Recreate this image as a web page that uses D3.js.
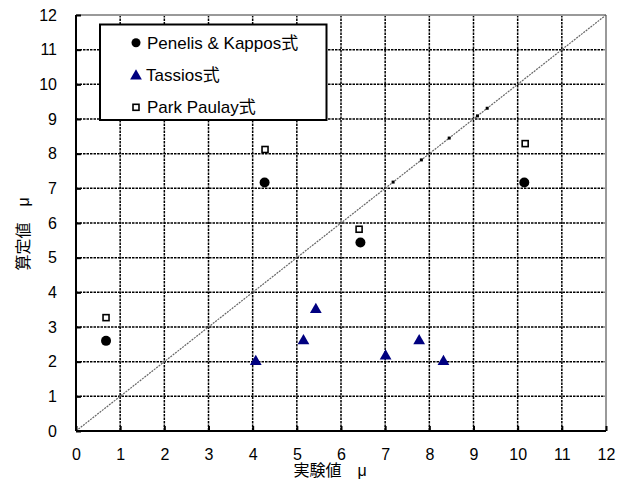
<!DOCTYPE html>
<html><head><meta charset="utf-8">
<script src="https://cdn.jsdelivr.net/npm/d3@7"></script>
<style>body{margin:0;background:#fff}svg{display:block}</style>
</head><body>
<script>
const xTicks = [0,1,2,3,4,5,6,7,8,9,10,11,12];
const yTicks = [0,1,2,3,4,5,6,7,8,9,10,11,12];
const penelisX = [0.68, 4.27, 6.44, 10.15];
const penelisY = [2.6, 7.17, 5.44, 7.17];
const tassiosX = [4.07, 5.15, 5.43, 7.01, 7.77, 8.32];
const tassiosY = [2.0, 2.6, 3.5, 2.16, 2.6, 2.0];
const parkX = [0.68, 4.28, 6.41, 10.17];
const parkY = [3.27, 8.12, 5.82, 8.29];
const diagX = [7.18, 7.82, 8.45, 9.09, 9.31];
const seriesNames = ["Penelis & Kappos式", "Tassios式", "Park Paulay式"];
const xTitle = "実験値　μ";
const yTitle = "算定値　μ";

const W = 620, H = 489;
const pL = 76, pR = 606, pT = 15, pB = 431;
const svg = d3.select("body").append("svg").attr("width", W).attr("height", H);
const x = d3.scaleLinear().domain([0,12]).range([pL,pR]);
const y = d3.scaleLinear().domain([0,12]).range([pB,pT]);
const font = "'Liberation Sans', Arial, sans-serif";
const cjk = "'Liberation Sans', 'Noto Sans CJK JP', sans-serif";

// grid
const grid = svg.append("g");
grid.selectAll(".gx").data(xTicks.slice(1, -1)).join("line")
  .attr("x1", d=>x(d)).attr("x2", d=>x(d)).attr("y1", pT).attr("y2", pB)
  .attr("stroke", "#000").attr("stroke-width", 1.5).attr("stroke-dasharray", "2.5,1");
grid.selectAll(".gy").data(yTicks.slice(1, -1)).join("line")
  .attr("y1", d=>y(d)).attr("y2", d=>y(d)).attr("x1", pL).attr("x2", pR)
  .attr("stroke", "#000").attr("stroke-width", 1.5).attr("stroke-dasharray", "2.5,1");

// top/right border gray
svg.append("line").attr("x1", pL).attr("x2", pR).attr("y1", pT).attr("y2", pT)
  .attr("stroke", "#999").attr("stroke-width", 2);
svg.append("line").attr("x1", pR).attr("x2", pR).attr("y1", pT).attr("y2", pB)
  .attr("stroke", "#999").attr("stroke-width", 2);

// diagonal
svg.append("line").attr("x1", x(0)).attr("y1", y(0)).attr("x2", x(12)).attr("y2", y(12))
  .attr("stroke", "#666").attr("stroke-width", 1.2).attr("stroke-dasharray", "2,1");
svg.selectAll(".dm").data(diagX).join("rect")
  .attr("x", d=>x(d)-1.5).attr("y", d=>y(d)-1.5).attr("width", 3).attr("height", 3).attr("fill", "#000");

// axes
const xAxis = d3.axisBottom(x).tickValues(xTicks).tickSize(-5).tickPadding(14).tickFormat(d3.format("d"));
const yAxis = d3.axisLeft(y).tickValues(yTicks).tickSize(-5).tickPadding(14).tickFormat(d3.format("d"));
const gx = svg.append("g").attr("transform", `translate(0,${pB})`).call(xAxis);
const gy = svg.append("g").attr("transform", `translate(${pL},0)`).call(yAxis);
[gx, gy].forEach(g => {
  g.select(".domain").attr("stroke", "#000").attr("stroke-width", 2);
  g.selectAll(".tick line").attr("stroke", "#000").attr("stroke-width", 2);
  g.selectAll(".tick text").attr("font-family", font).attr("font-size", 16).attr("fill", "#000");
});
gx.select(".domain").attr("d", `M${pL},0H${pR}`);
gy.select(".domain").attr("d", `M0,${pT}V${pB}`);
gx.selectAll(".tick text").attr("dy", "0.71em").attr("y", 18);
gy.selectAll(".tick text").attr("x", -19);

// data
svg.selectAll(".pk").data(penelisX).join("circle")
  .attr("cx", d=>x(d)).attr("cy", (d,i)=>y(penelisY[i])).attr("r", 5).attr("fill", "#000");
const tri = d3.symbol().type(d3.symbolTriangle).size(60);
svg.selectAll(".ts").data(tassiosX).join("path")
  .attr("d", tri).attr("transform", (d,i)=>`translate(${x(d)},${y(tassiosY[i])})`).attr("fill", "#000080");
svg.selectAll(".pp").data(parkX).join("rect")
  .attr("x", d=>x(d)-3).attr("y", (d,i)=>y(parkY[i])-3).attr("width", 6).attr("height", 6)
  .attr("fill", "#fff").attr("stroke", "#000").attr("stroke-width", 1.6);

// legend
const lg = svg.append("g");
lg.append("rect").attr("x", 100).attr("y", 24.5).attr("width", 226.5).attr("height", 95.5)
  .attr("fill", "#fff").attr("stroke", "#000").attr("stroke-width", 2);
const rows = [42.7, 75, 107.3];
lg.append("circle").attr("cx", 136).attr("cy", rows[0]).attr("r", 4.5).attr("fill", "#000");
lg.append("path").attr("d", tri).attr("transform", `translate(136,${rows[1]+1})`).attr("fill", "#000080");
lg.append("rect").attr("x", 133).attr("y", rows[2]-3).attr("width", 6).attr("height", 6)
  .attr("fill", "#fff").attr("stroke", "#000").attr("stroke-width", 1.6);
lg.selectAll(".lt").data(seriesNames).join("text")
  .attr("x", (d,i)=> i===1 ? 146 : 147).attr("y", (d,i)=>rows[i]).attr("dy", "0.36em")
  .attr("font-family", cjk).attr("font-size", 17).attr("fill", "#000").text(d=>d);

// titles
svg.append("text").attr("x", 330).attr("y", 470).attr("dy", "0.36em").attr("text-anchor", "middle")
  .attr("font-family", cjk).attr("font-size", 16).text(xTitle);
svg.append("text").attr("transform", "translate(23,234) rotate(-90)").attr("dy", "0.36em")
  .attr("text-anchor", "middle").attr("font-family", cjk).attr("font-size", 16).text(yTitle);
</script>
</body></html>
